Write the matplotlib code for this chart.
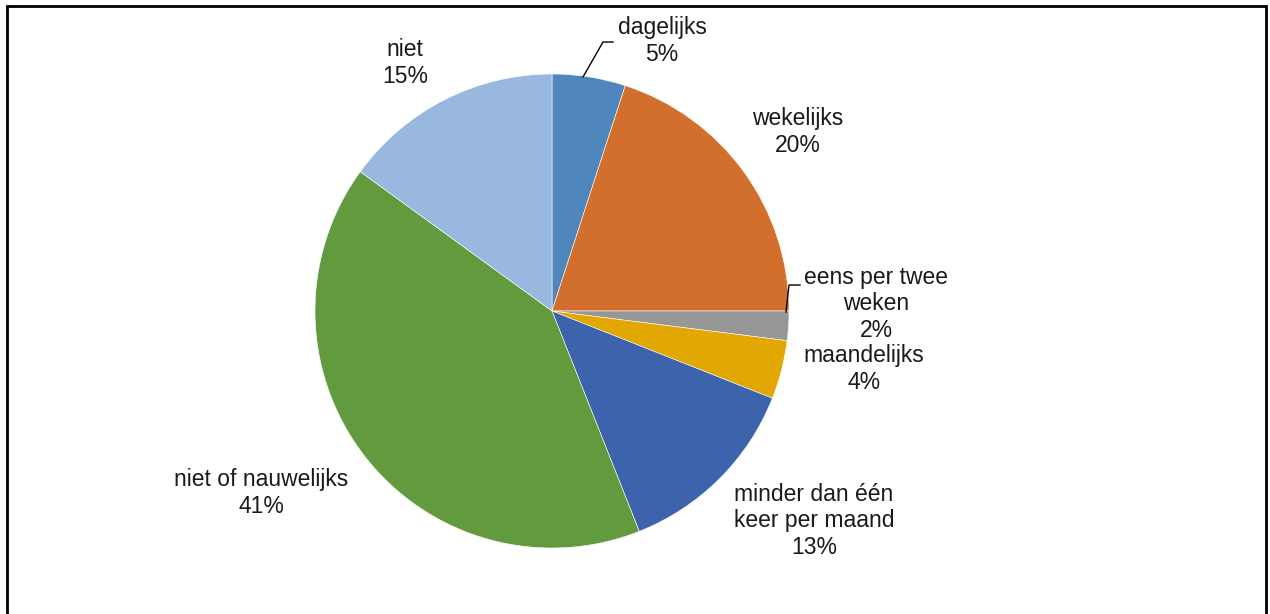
import matplotlib
matplotlib.use("Agg")
import matplotlib.pyplot as plt
from matplotlib.lines import Line2D

plt.rcParams['font.family'] = ['Liberation Sans', 'DejaVu Sans']

categories = ["dagelijks", "wekelijks", "eens per twee\nweken", "maandelijks",
              "minder dan één\nkeer per maand", "niet of nauwelijks", "niet"]
values = [5, 20, 2, 4, 13, 41, 15]
colors = ["#4F87BC", "#D36F2C", "#979797", "#E2A700", "#3C63AC", "#629A3E", "#98B8E0"]

W, H = 1270, 614
fig = plt.figure(figsize=(W / 100, H / 100), dpi=100)
ax = fig.add_axes([0, 0, 1, 1])

# pie centre and radius in pixel units (y axis points down, so flip direction)
cx, cy, r = 552, 311, 237
ax.pie(values, colors=colors, startangle=-90, counterclock=True,
       center=(cx, cy), radius=r, frame=True,
       wedgeprops=dict(linewidth=0.4, edgecolor="white"))
ax.set_xlim(0, W)
ax.set_ylim(H, 0)
ax.set_aspect('equal')
ax.axis('off')

# label anchor points (centre of each text block)
label_pos = [(662, 41), (798, 132), (876, 304), (864, 369),
             (814, 521), (261, 493), (405, 63)]
for cat, val, (lx, ly) in zip(categories, values, label_pos):
    ax.text(lx, ly, f"{cat}\n{val}%", ha='center', va='center',
            fontsize=16.5, color="#1a1a1a", linespacing=1.2)

# leader lines for the two small slices
ax.add_line(Line2D([583, 603, 613], [77, 42, 42], color="black", lw=1.0))
ax.add_line(Line2D([786, 789, 800], [312, 285, 285], color="black", lw=1.0))

# outer frame (bottom edge runs off the image)
ax.add_line(Line2D([7, 7, 1266, 1266], [H + 5, 6, 6, H + 5], color="black",
                   lw=2.0, solid_joinstyle='miter'))

fig.savefig("out.png", dpi=100)
